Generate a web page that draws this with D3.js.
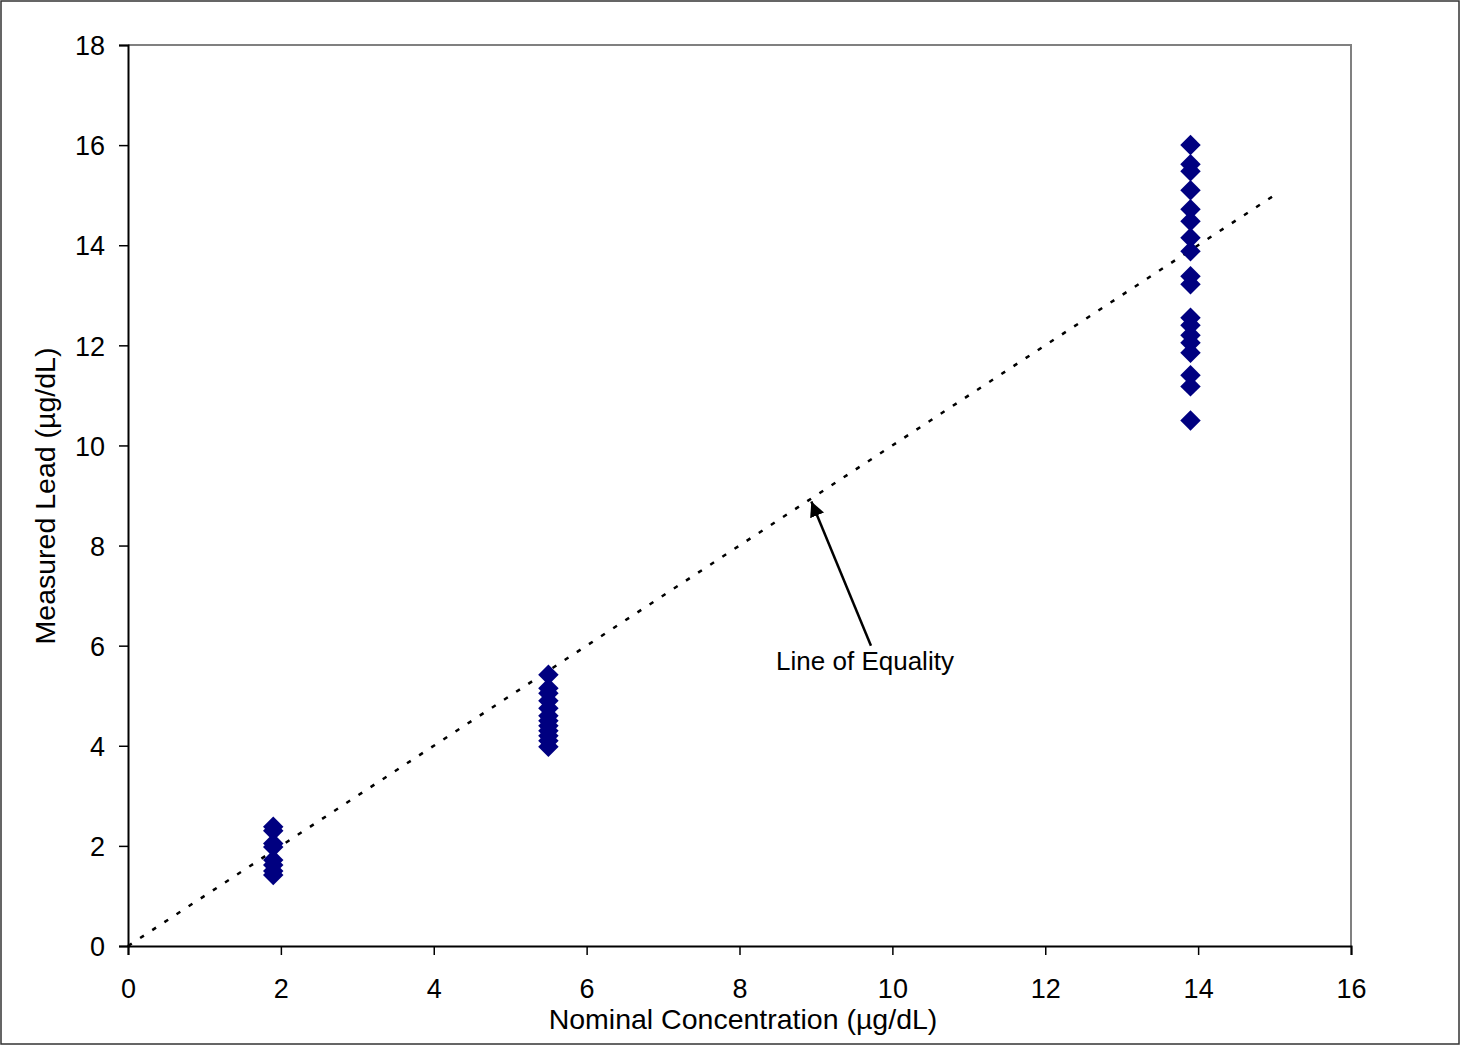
<!DOCTYPE html>
<html><head><meta charset="utf-8">
<script src="https://cdn.jsdelivr.net/npm/d3@7"></script>
<style>body{margin:0;background:#fff}svg text{font-family:"Liberation Sans",Arial,sans-serif}</style>
</head><body>
<svg id="c" width="1461" height="1046"></svg>
<script>
const nominal = [1.9, 5.5, 13.9];
const measured19 = [2.38, 2.3, 2.05, 1.98, 1.72, 1.62, 1.5, 1.42];
const measured55 = [5.42, 5.15, 5.05, 4.9, 4.75, 4.6, 4.5, 4.4, 4.3, 4.2, 4.1, 3.98];
const measured139 = [16.0, 15.62, 15.48, 15.1, 14.72, 14.48, 14.15, 13.88, 13.38, 13.22, 12.55, 12.4, 12.2, 12.05, 11.85, 11.4, 11.18, 10.5];
const equalityLine = [0, 15];
const xTicks = [0, 2, 4, 6, 8, 10, 12, 14, 16];
const yTicks = [0, 2, 4, 6, 8, 10, 12, 14, 16, 18];
const xTitle = "Nominal Concentration (µg/dL)";
const yTitle = "Measured Lead (µg/dL)";
const annotation = "Line of Equality";

const svg = d3.select("#c");
const L = 128, R = 1351, T = 45, B = 946;
const x = d3.scaleLinear().domain([0, 16]).range([L, R]);
const y = d3.scaleLinear().domain([0, 18]).range([B, T]);

svg.append("rect").attr("x", 1).attr("y", 1).attr("width", 1458).attr("height", 1043)
  .attr("fill", "#fff").attr("stroke", "#333").attr("stroke-width", 1.5);

svg.append("path").attr("d", `M${L},${T}H${R}V${B}`).attr("fill", "none").attr("stroke", "#808080").attr("stroke-width", 2);

const fs = 27;
const xAxis = svg.append("g").attr("transform", `translate(0,${B})`)
  .call(d3.axisBottom(x).tickValues(xTicks).tickSize(9).tickPadding(14).tickFormat(d3.format("d")));
const yAxis = svg.append("g").attr("transform", `translate(${L},0)`)
  .call(d3.axisLeft(y).tickValues(yTicks).tickSize(9).tickPadding(14).tickFormat(d3.format("d")));
[xAxis, yAxis].forEach(g => {
  g.attr("font-size", fs);
  g.select(".domain").attr("stroke", "#000").attr("stroke-width", 2);
  g.selectAll(".tick line").attr("stroke", "#000").attr("stroke-width", 1.5);
  g.selectAll("text").attr("font-size", fs).attr("fill", "#000").style("font-family", '"Liberation Sans",Arial,sans-serif');
});
xAxis.selectAll(".tick text").attr("dy", 0).attr("y", 52);
yAxis.selectAll(".tick text").attr("dy", "0.36em");

svg.append("line")
  .attr("x1", x(equalityLine[0])).attr("y1", y(equalityLine[0]))
  .attr("x2", x(equalityLine[1])).attr("y2", y(equalityLine[1]))
  .attr("stroke", "#000").attr("stroke-width", 2.5).attr("stroke-dasharray", "4.5,10");

const pts = [];
measured19.forEach(v => pts.push([nominal[0], v]));
measured55.forEach(v => pts.push([nominal[1], v]));
measured139.forEach(v => pts.push([nominal[2], v]));
const sym = d3.symbol().type(d3.symbolSquare).size(210);
svg.append("g").selectAll("path").data(pts).join("path")
  .attr("d", sym)
  .attr("transform", d => `translate(${x(d[0])},${y(d[1])}) rotate(45)`)
  .attr("fill", "#000080");

svg.append("defs").append("marker").attr("id", "ah").attr("viewBox", "0 0 10 10")
  .attr("refX", 10).attr("refY", 5).attr("markerWidth", 6).attr("markerHeight", 6)
  .attr("markerUnits", "strokeWidth").attr("orient", "auto")
  .append("path").attr("d", "M0,0L10,5L0,10z").attr("fill", "#000");
svg.append("line").attr("x1", x(9.72)).attr("y1", y(6.0)).attr("x2", x(8.94)).attr("y2", y(8.88))
  .attr("stroke", "#000").attr("stroke-width", 2.5).attr("marker-end", "url(#ah)");
svg.append("text").attr("x", 865).attr("y", 670).attr("text-anchor", "middle")
  .attr("font-size", 26).text(annotation);

svg.append("text").attr("x", 743).attr("y", 1029).attr("text-anchor", "middle")
  .attr("font-size", 28.5).text(xTitle);
svg.append("text").attr("transform", `translate(55,496) rotate(-90)`).attr("text-anchor", "middle")
  .attr("font-size", 28.5).text(yTitle);
</script>
</body></html>
